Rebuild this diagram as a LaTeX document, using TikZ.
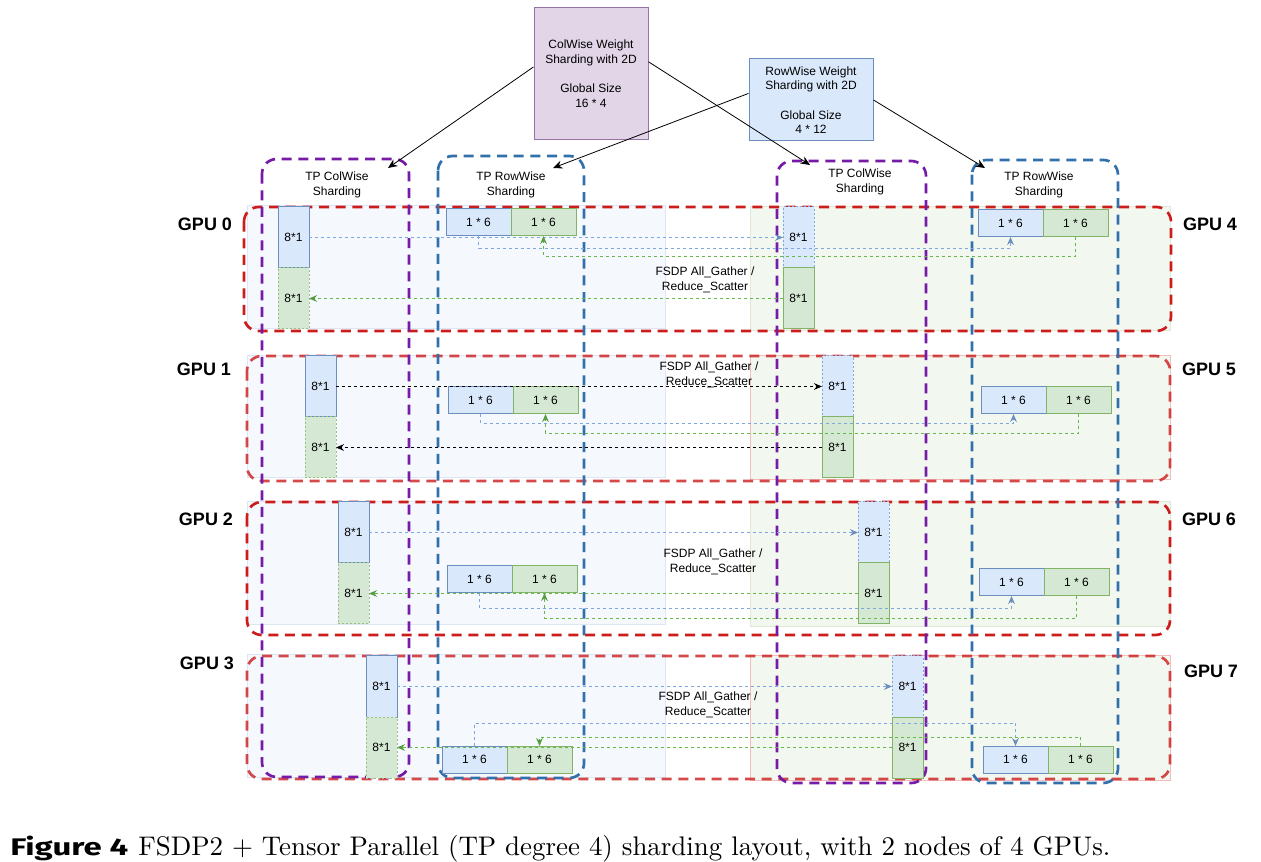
\documentclass[tikz,border=0pt]{standalone}
\usepackage{fontspec}
\usepackage{graphicx}
\setsansfont{Liberation Sans}
\newfontfamily\figfont{Fira Sans}
\usetikzlibrary{arrows.meta}

\definecolor{colwise}{RGB}{118,26,168}
\definecolor{rowwise}{RGB}{50,112,172}
\definecolor{gpured}{RGB}{204,28,28}
\definecolor{bluefill}{HTML}{DAE8FC}
\definecolor{blueline}{HTML}{6C8EBF}
\definecolor{greenfill}{HTML}{D5E8D4}
\definecolor{greenline}{HTML}{82B366}
\definecolor{purplefill}{HTML}{E1D5E7}
\definecolor{purpleline}{HTML}{9673A6}
\definecolor{bluepanel}{HTML}{F5F8FD}
\definecolor{bluepanelline}{HTML}{DDE6F5}
\definecolor{greenpanel}{HTML}{F2F8EF}
\definecolor{greenpanelline}{HTML}{DDEBD6}
\definecolor{pinkpanelline}{HTML}{F2BDBD}
\definecolor{bluedot}{HTML}{7EA6E0}
\definecolor{greendot}{HTML}{66B84A}

\begin{document}
\begin{tikzpicture}[x=0.75pt, y=-0.75pt,
    txt/.style={font=\sffamily\fontsize{9}{11}\selectfont, align=center, inner sep=0pt},
    shard/.style={txt, draw, line width=0.75pt, anchor=north west, outer sep=0pt},
    cshard/.style={shard, minimum width=23.25pt, minimum height=45.75pt},
    rshard/.style={shard, minimum width=48.75pt, minimum height=20.25pt},
    bown/.style={fill=bluefill, draw=blueline},
    gown/.style={fill=greenfill, draw=greenline},
    bcopy/.style={fill=bluefill, draw=bluedot, dash pattern=on 1.5pt off 1.5pt},
    gcopy/.style={fill=greenfill, draw=greenline!80, dash pattern=on 1.5pt off 1.5pt},
    colbox/.style={line width=2pt, dash pattern=on 7.5pt off 5pt, rounded corners=11pt},
    rowbox/.style={draw=gpured, line width=2pt, dash pattern=on 7.5pt off 5pt, rounded corners=11pt},
    bpanel/.style={fill=bluepanel, draw=bluepanelline, line width=0.75pt},
    gpanel/.style={fill=greenpanel, draw=greenpanelline, line width=0.75pt},
    gpu/.style={font=\sffamily\bfseries\fontsize{13.5}{16}\selectfont, inner sep=0pt},
    feed/.style={line width=0.6pt, -{Stealth[length=7pt,width=6pt]}},
    link/.style={line width=0.7pt, dash pattern=on 2.25pt off 2.25pt},
    blink/.style={link, draw=bluedot, -{Stealth[length=6pt,width=5pt,color=blueline]}},
    glink/.style={link, draw=greendot, -{Stealth[length=6pt,width=5pt,color=greendot!85!black]}},
    klink/.style={link, draw=black, -{Stealth[length=6pt,width=5pt]}},
  ]
  \fill[white] (0,0) rectangle (1261,862);
  \useasboundingbox (0,0) rectangle (1261,862);

  % GPU PANELS
  \draw[bpanel] (247,206) rectangle (665,329);
  \draw[gpanel] (750,207) rectangle (1170,331);
  \draw[bpanel] (247,356) rectangle (665,478);
  \draw[gpanel, draw=pinkpanelline] (750,356) rectangle (1170,480);
  \draw[bpanel] (247,502) rectangle (665,625);
  \draw[gpanel] (750,502) rectangle (1170,627);
  \draw[bpanel] (247,655) rectangle (665,777);
  \draw[gpanel, draw=pinkpanelline] (750,656) rectangle (1170,780);

  % GPU ROWS
  \draw[rowbox] (244,207) rectangle (1171,331);
  \draw[rowbox, draw opacity=0.8] (247,356) rectangle (1170,481);
  \draw[rowbox] (247,502) rectangle (1170,635);
  \draw[rowbox, draw opacity=0.8] (247,656) rectangle (1170,779);

  % TP COLUMNS
  \draw[colbox, draw=colwise] (262,159) rectangle (409,777);
  \draw[colbox, draw=rowwise] (438,156) rectangle (584,778);
  \draw[colbox, draw=colwise] (777,161) rectangle (926,783);
  \draw[colbox, draw=rowwise] (972,160) rectangle (1118,783);
  \node[txt] (c1lab) at (337,185) {TP ColWise\\Sharding};
  \node[txt] (c2lab) at (511,185) {TP RowWise\\Sharding};
  \node[txt] (c3lab) at (860,182) {TP ColWise\\Sharding};
  \node[txt] (c4lab) at (1039,185) {TP RowWise\\Sharding};

  % WEIGHTS
  \node[txt, draw=purpleline, fill=purplefill, line width=0.75pt,
        minimum width=85.5pt, minimum height=99pt] (cwbox) at (591,74)
        {ColWise Weight\\Sharding with 2D\\[11pt]Global Size\\16 * 4};
  \node[txt, draw=blueline, fill=bluefill, line width=0.75pt,
        minimum width=93pt, minimum height=61.5pt] (rwbox) at (811,100)
        {RowWise Weight\\Sharding with 2D\\[11pt]Global Size\\4 * 12};
  \coordinate (c1in) at (388,168);
  \coordinate (c2in) at (553,168);
  \coordinate (c3in) at (810,165);
  \coordinate (c4in) at (985,168);
  \draw[feed] (cwbox.173) -- (c1in);
  \draw[feed] (cwbox.12) -- (c3in);
  \draw[feed] (rwbox.174) -- (c2in);
  \draw[feed] (rwbox.east) -- (c4in);

  % GPU LABELS
  \node[gpu] (gpu0) at (205,224) {GPU 0};
  \node[gpu] (gpu1) at (204,369) {GPU 1};
  \node[gpu] (gpu2) at (206,519) {GPU 2};
  \node[gpu] (gpu3) at (207,663) {GPU 3};
  \node[gpu] (gpu4) at (1210,224) {GPU 4};
  \node[gpu] (gpu5) at (1209,369) {GPU 5};
  \node[gpu] (gpu6) at (1209,519) {GPU 6};
  \node[gpu] (gpu7) at (1211,671) {GPU 7};

  % GPU 0 / GPU 4
  \node[cshard, bown] (g0cb) at (278,207) {8*1};
  \node[cshard, gcopy] (g0cg) at (g0cb.south west) {8*1};
  \node[rshard, bown] (g0rb) at (446,209) {1 * 6};
  \node[rshard, gown] (g0rg) at (g0rb.north east) {1 * 6};
  \node[cshard, bcopy] (g4cb) at (783,207) {8*1};
  \node[cshard, gown] (g4cg) at (g4cb.south west) {8*1};
  \node[rshard, bown] (g4rb) at (978,210) {1 * 6};
  \node[rshard, gown] (g4rg) at (g4rb.north east) {1 * 6};
  \draw[blink] (g0cb.east) -- (g0cb.east -| g4cb.west);
  \draw[glink] (g4cg.west) -- (g4cg.west -| g0cg.east);
  \draw[blink] (g0rb.south) -- ++(0,12) -| (g4rb.south);
  \draw[glink] (g4rg.south) -- ++(0,19) -| (g0rg.south);
  \node[txt] (fsdp0) at (705,280) {FSDP All\_Gather /\\Reduce\_Scatter};

  % GPU 1 / GPU 5
  \node[cshard, bown] (g1cb) at (305,356) {8*1};
  \node[cshard, gcopy] (g1cg) at (g1cb.south west) {8*1};
  \node[rshard, bown] (g1rb) at (448,387) {1 * 6};
  \node[rshard, gown] (g1rg) at (g1rb.north east) {1 * 6};
  \node[cshard, bcopy] (g5cb) at (822,356) {8*1};
  \node[cshard, gown] (g5cg) at (g5cb.south west) {8*1};
  \node[rshard, bown] (g5rb) at (981,387) {1 * 6};
  \node[rshard, gown] (g5rg) at (g5rb.north east) {1 * 6};
  \draw[klink] (g1cb.east) -- (g1cb.east -| g5cb.west);
  \draw[klink] (g5cg.west) -- (g5cg.west -| g1cg.east);
  \draw[blink] (g1rb.south) -- ++(0,9) -| (g5rb.south);
  \draw[glink] (g5rg.south) -- ++(0,19) -| (g1rg.south);
  \node[txt] (fsdp1) at (709,375) {FSDP All\_Gather /\\Reduce\_Scatter};

  % GPU 2 / GPU 6
  \node[cshard, bown] (g2cb) at (338,502) {8*1};
  \node[cshard, gcopy] (g2cg) at (g2cb.south west) {8*1};
  \node[rshard, bown] (g2rb) at (447,566) {1 * 6};
  \node[rshard, gown] (g2rg) at (g2rb.north east) {1 * 6};
  \node[cshard, bcopy] (g6cb) at (858,502) {8*1};
  \node[cshard, gown] (g6cg) at (g6cb.south west) {8*1};
  \node[rshard, bown] (g6rb) at (979,569) {1 * 6};
  \node[rshard, gown] (g6rg) at (g6rb.north east) {1 * 6};
  \draw[blink] (g2cb.east) -- (g2cb.east -| g6cb.west);
  \draw[glink] (g6cg.west) -- (g6cg.west -| g2cg.east);
  \draw[blink] (g2rb.south) -- ++(0,15) -| (g6rb.south);
  \draw[glink] (g6rg.south) -- ++(0,22) -| (g2rg.south);
  \node[txt] (fsdp2) at (713,562) {FSDP All\_Gather /\\Reduce\_Scatter};

  % GPU 3 / GPU 7
  \node[cshard, bown] (g3cb) at (366,656) {8*1};
  \node[cshard, gcopy] (g3cg) at (g3cb.south west) {8*1};
  \node[rshard, bown] (g3rb) at (442,746) {1 * 6};
  \node[rshard, gown] (g3rg) at (g3rb.north east) {1 * 6};
  \node[cshard, bcopy] (g7cb) at (892,656) {8*1};
  \node[cshard, gown] (g7cg) at (g7cb.south west) {8*1};
  \node[rshard, bown] (g7rb) at (983,746) {1 * 6};
  \node[rshard, gown] (g7rg) at (g7rb.north east) {1 * 6};
  \draw[blink] (g3cb.east) -- (g3cb.east -| g7cb.west);
  \draw[glink] (g7cg.west) -- (g7cg.west -| g3cg.east);
  \draw[blink] (g3rb.north) -- ++(0,-23) -| (g7rb.north);
  \draw[glink] (g7rg.north) -- ++(0,-9) -| (g3rg.north);
  \node[txt] (fsdp3) at (708,705) {FSDP All\_Gather /\\Reduce\_Scatter};

  % CAPTION
  \node[anchor=base west, inner sep=0pt] (figno) at (10,855)
    {\resizebox{88.5pt}{14.6pt}{\figfont\bfseries\fontsize{10}{12}\selectfont Figure 4}};
  \node[anchor=base west, inner sep=0pt] (figcap) at (138,855)
    {\resizebox{729pt}{!}{\fontsize{10}{12}\selectfont FSDP2 $+$ Tensor Parallel (TP degree 4) sharding layout, with 2 nodes of 4 GPUs.}};
\end{tikzpicture}
\end{document}
